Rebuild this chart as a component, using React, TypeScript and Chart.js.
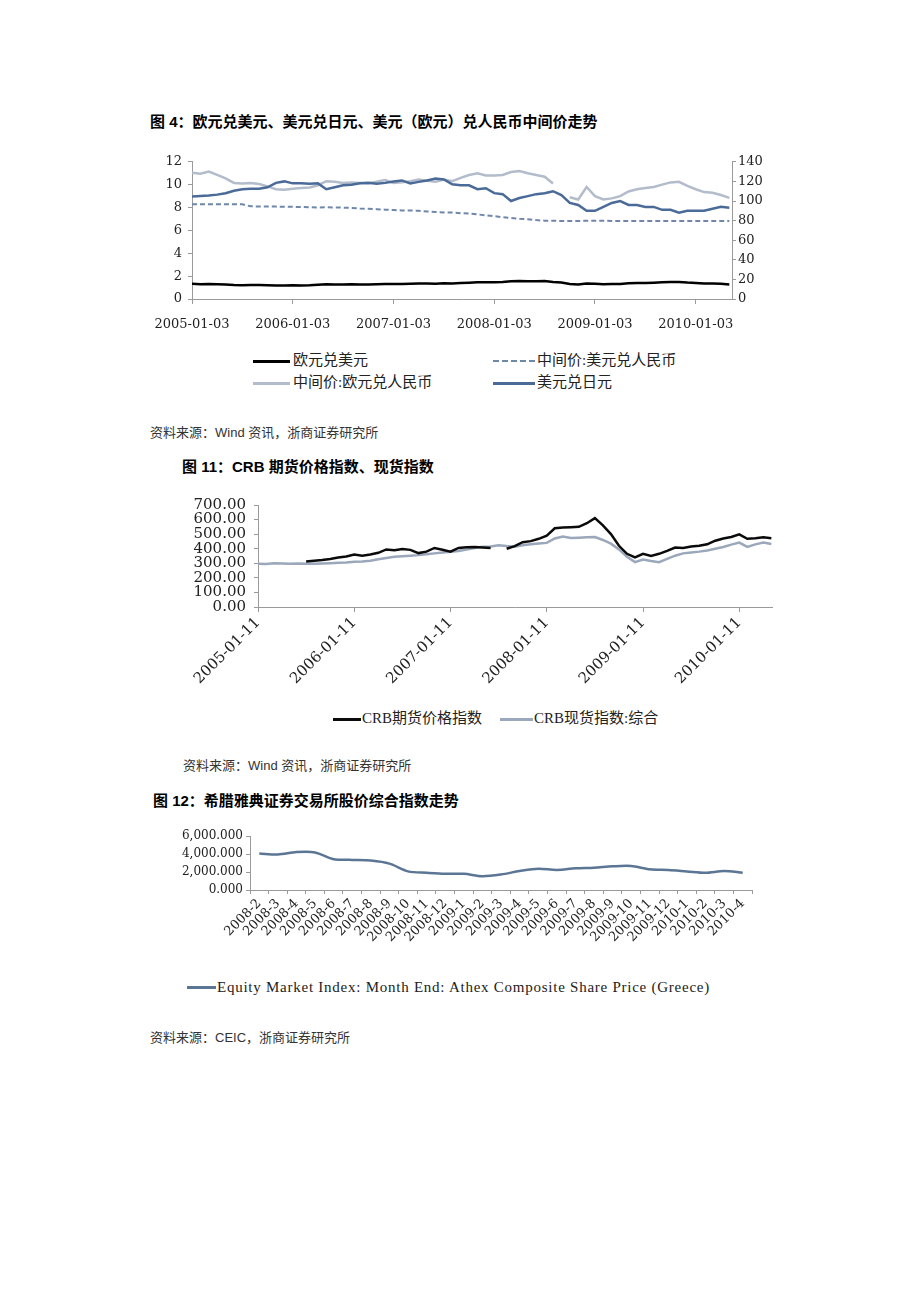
import React, { useEffect, useRef } from 'react';
import { Chart, registerables } from 'chart.js';

Chart.register(...registerables);

// ---------- Figure 4: FX (monthly samples from 2005-01) ----------
const fxTickLabels = ['2005-01-03', '2006-01-03', '2007-01-03', '2008-01-03', '2009-01-03', '2010-01-03'];
const eurUsd = [
  1.34, 1.30, 1.31, 1.29, 1.26, 1.22, 1.21, 1.23, 1.22, 1.20, 1.18, 1.19,
  1.21, 1.19, 1.20, 1.24, 1.28, 1.27, 1.27, 1.28, 1.27, 1.27, 1.30, 1.32,
  1.31, 1.31, 1.33, 1.36, 1.35, 1.34, 1.37, 1.36, 1.40, 1.43, 1.47, 1.46,
  1.47, 1.49, 1.55, 1.57, 1.55, 1.56, 1.57, 1.48, 1.44, 1.32, 1.27, 1.36,
  1.33, 1.28, 1.31, 1.32, 1.37, 1.40, 1.41, 1.43, 1.46, 1.48, 1.49, 1.44,
  1.41, 1.36, 1.35, 1.34, 1.26,
];
const usdCnyMid = [
  8.28, 8.28, 8.28, 8.28, 8.28, 8.28, 8.28, 8.11, 8.09, 8.09, 8.08, 8.07,
  8.06, 8.04, 8.03, 8.01, 8.02, 8.00, 7.99, 7.97, 7.92, 7.89, 7.86, 7.81,
  7.78, 7.75, 7.74, 7.72, 7.65, 7.62, 7.57, 7.57, 7.51, 7.48, 7.40, 7.32,
  7.24, 7.16, 7.08, 7.01, 6.97, 6.90, 6.85, 6.84, 6.83, 6.83, 6.83, 6.84,
  6.84, 6.84, 6.83, 6.83, 6.83, 6.83, 6.83, 6.83, 6.83, 6.83, 6.83, 6.83,
  6.83, 6.83, 6.83, 6.83, 6.83,
];
const eurCnyMid = [
  11.05, 10.95, 11.15, 10.85, 10.55, 10.15, 10.10, 10.15, 10.05, 9.85, 9.60, 9.55,
  9.65, 9.70, 9.75, 9.95, 10.30, 10.25, 10.15, 10.20, 10.15, 10.10, 10.25, 10.40,
  10.15, 10.20, 10.30, 10.45, 10.35, 10.25, 10.45, 10.30, 10.60, 10.85, 11.00, 10.80,
  10.80, 10.85, 11.10, 11.20, 11.00, 10.85, 10.70, 10.10, null, 8.90, 8.70, 9.80,
  9.00, 8.70, 8.80, 9.00, 9.40, 9.60, 9.70, 9.80, 10.00, 10.20, 10.25, 9.90,
  9.60, 9.35, 9.30, 9.10, 8.85,
];
const usdJpy = [
  104.5, 105, 105.5, 106.5, 108, 110.5, 112, 112.5, 112.5, 114, 118.5, 120,
  118, 118, 117.5, 118, 112, 114, 116, 116.5, 118, 118.5, 117.5, 118.5,
  120, 121, 118, 119.5, 121, 123, 122, 117, 116, 116, 112, 113,
  108, 107, 100, 103, 105, 107, 108, 110, 106, 98, 96, 90,
  90, 94, 98, 100, 96, 96, 94, 94, 91, 91, 88, 90,
  90, 90, 92, 94, 93,
];

// ---------- Figure 11: CRB (monthly samples from 2005-01) ----------
const crbTickLabels = ['2005-01-11', '2006-01-11', '2007-01-11', '2008-01-11', '2009-01-11', '2010-01-11'];
const crbFutures = [
  null, null, null, null, null, null, 313, 318, 322, 330, 340, 347,
  360, 352, 360, 372, 395, 390, 398, 392, 370, 380, 405, 393,
  380, 405, 410, 412, 408, 405, null, 400, 418, 445, 452, 468,
  490, 540, 545, 548, 550, 575, 610, 560, 500, 420, 365, 340,
  365, 350, 365, 385, 408, 405, 415, 420, 430, 455, 470, 480,
  498, 468, 472, 478, 472,
];
const crbSpot = [
  297, 295, 300, 298, 297, 298, 297, 296, 298, 300, 303, 305,
  310, 313, 318, 328, 336, 345, 348, 352, 356, 362, 368, 374,
  379, 385, 395, 405, 413, 416, 424, 418, 414, 424, 430, 436,
  440, 470, 484, 473, 475, 478, 480, 460, 435, 395, 345, 308,
  325, 315, 308, 330, 352, 368, 374, 380, 388, 400, 412, 428,
  442, 412, 430, 443, 432,
];

// ---------- Figure 12: Athex composite ----------
const athexMonths = [
  '2008-2', '2008-3', '2008-4', '2008-5', '2008-6', '2008-7', '2008-8', '2008-9', '2008-10',
  '2008-11', '2008-12', '2009-1', '2009-2', '2009-3', '2009-4', '2009-5', '2009-6', '2009-7',
  '2009-8', '2009-9', '2009-10', '2009-11', '2009-12', '2010-1', '2010-2', '2010-3', '2010-4',
];
const athexIndex = [
  4075, 3962, 4226, 4189, 3434, 3358, 3283, 2943, 2075,
  1925, 1811, 1811, 1547, 1736, 2113, 2377, 2226, 2415,
  2491, 2642, 2679, 2302, 2226, 2075, 1925, 2113, 1925,
];

const monthly = (vals: (number | null)[]) => vals.map((v, i) => ({ x: i / 12, y: v }));

const AXIS = '#9a9a9a';
const TXT = '#222';
const SERIF = 'DejaVu Serif';
const CJK = '"Liberation Serif", "Noto Sans CJK SC", serif';
const CJK_BOLD = '"Liberation Sans", "Noto Sans CJK SC", sans-serif';

const yearTicks = (labels: string[]) => (scale: any) => {
  scale.ticks = labels.map((_, i) => ({ value: i }));
};

function ChartCanvas({ left, top, width, height, make }: any) {
  const ref = useRef<HTMLCanvasElement>(null);
  useEffect(() => {
    const chart = new Chart(ref.current as HTMLCanvasElement, make());
    return () => chart.destroy();
  }, []);
  return (
    <canvas
      ref={ref}
      width={width}
      height={height}
      style={{ position: 'absolute', left, top, width, height }}
    />
  );
}

const noPlugins = { legend: { display: false }, tooltip: { enabled: false } };

const fxConfig = (): any => ({
  type: 'line',
  data: {
    datasets: [
      { label: '欧元兑美元', data: monthly(eurUsd), yAxisID: 'yL', borderColor: '#000', borderWidth: 2.5 },
      { label: '中间价:美元兑人民币', data: monthly(usdCnyMid), yAxisID: 'yL', borderColor: '#6f88aa', borderWidth: 2, borderDash: [5, 3] },
      { label: '美元兑日元', data: monthly(usdJpy), yAxisID: 'yR', borderColor: '#4a6a98', borderWidth: 2.5 },
      { label: '中间价:欧元兑人民币', data: monthly(eurCnyMid), yAxisID: 'yL', borderColor: '#b3bccb', borderWidth: 2.5 },
    ],
  },
  options: {
    animation: false,
    responsive: false,
    spanGaps: false,
    elements: { point: { radius: 0 }, line: { tension: 0 } },
    plugins: noPlugins,
    layout: { padding: { top: 10, left: 0, right: 0, bottom: 0 } },
    scales: {
      x: {
        type: 'linear', min: 0, max: 5.36,
        afterBuildTicks: yearTicks(fxTickLabels),
        afterFit: (s: any) => { s.height = 44; },
        ticks: { callback: (v: any) => fxTickLabels[Math.round(v)], autoSkip: false, maxRotation: 0, padding: 13, color: TXT, font: { family: SERIF, size: 13 } },
        grid: { drawOnChartArea: false, tickLength: 5, color: AXIS },
        border: { color: AXIS },
      },
      yL: {
        position: 'left', min: 0, max: 12,
        afterFit: (s: any) => { s.width = 52; },
        ticks: { stepSize: 2, autoSkip: false, padding: 6, color: TXT, font: { family: SERIF, size: 13 } },
        grid: { drawOnChartArea: false, tickLength: 4, color: AXIS },
        border: { color: AXIS },
      },
      yR: {
        position: 'right', min: 0, max: 140,
        afterFit: (s: any) => { s.width = 48; },
        ticks: { stepSize: 20, autoSkip: false, padding: 2, color: TXT, font: { family: SERIF, size: 13 } },
        grid: { drawOnChartArea: false, tickLength: 4, color: AXIS },
        border: { color: AXIS },
      },
    },
  },
});

const crbConfig = (): any => ({
  type: 'line',
  data: {
    datasets: [
      { label: 'CRB期货价格指数', data: monthly(crbFutures), borderColor: '#0a0a0a', borderWidth: 2.5 },
      { label: 'CRB现货指数:综合', data: monthly(crbSpot), borderColor: '#9ba7ba', borderWidth: 2.5 },
    ],
  },
  options: {
    animation: false,
    responsive: false,
    spanGaps: false,
    elements: { point: { radius: 0 }, line: { tension: 0 } },
    plugins: noPlugins,
    layout: { padding: { top: 10, left: 0, right: 18, bottom: 0 } },
    scales: {
      x: {
        type: 'linear', min: 0, max: 5.34,
        afterBuildTicks: yearTicks(crbTickLabels),
        afterFit: (s: any) => { s.height = 90; },
        ticks: { callback: (v: any) => crbTickLabels[Math.round(v)], autoSkip: false, minRotation: 45, maxRotation: 45, padding: 2, color: TXT, font: { family: SERIF, size: 15 } },
        grid: { drawOnChartArea: false, tickLength: 5, color: AXIS },
        border: { color: AXIS },
      },
      y: {
        min: 0, max: 700,
        afterFit: (s: any) => { s.width = 88; },
        ticks: { stepSize: 100, autoSkip: false, padding: 8, callback: (v: any) => Number(v).toFixed(2), color: TXT, font: { family: SERIF, size: 15 } },
        grid: { drawOnChartArea: false, tickLength: 4, color: AXIS },
        border: { color: AXIS },
      },
    },
  },
});

const athexConfig = (): any => ({
  type: 'line',
  data: {
    labels: athexMonths,
    datasets: [
      { label: 'Equity Market Index: Month End: Athex Composite Share Price (Greece)', data: athexIndex, borderColor: '#5b7595', borderWidth: 2.5 },
    ],
  },
  options: {
    animation: false,
    responsive: false,
    elements: { point: { radius: 0 }, line: { tension: 0.3 } },
    plugins: noPlugins,
    layout: { padding: { top: 10, left: 0, right: 18, bottom: 0 } },
    scales: {
      x: {
        type: 'category', offset: true,
        afterFit: (s: any) => { s.height = 70; },
        ticks: { autoSkip: false, minRotation: 45, maxRotation: 45, padding: 2, color: TXT, font: { family: SERIF, size: 13 } },
        grid: { drawOnChartArea: false, offset: true, tickLength: 4, color: AXIS },
        border: { color: AXIS },
      },
      y: {
        min: 0, max: 6000,
        afterFit: (s: any) => { s.width = 100; },
        ticks: {
          stepSize: 2000, autoSkip: false, padding: 3, color: TXT, font: { family: SERIF, size: 12 },
          callback: (v: any) => Number(v).toLocaleString('en-US', { minimumFractionDigits: 3, maximumFractionDigits: 3 }),
        },
        grid: { drawOnChartArea: false, tickLength: 4, color: AXIS },
        border: { color: AXIS },
      },
    },
  },
});

function Txt({ left, top, size, bold, family, color, spacing, children }: any) {
  return (
    <div
      style={{
        position: 'absolute', left, top, fontSize: size, lineHeight: `${size}px`,
        fontWeight: bold ? 700 : 400, fontFamily: family, color: color || '#000', whiteSpace: 'nowrap',
        letterSpacing: spacing || 'normal',
      }}
    >
      {children}
    </div>
  );
}

function Swatch({ left, top, width, color, dashed, thick }: any) {
  return (
    <div
      style={{
        position: 'absolute', left, top, width, height: 0,
        borderTop: `${thick || 3}px ${dashed ? 'dashed' : 'solid'} ${color}`,
      }}
    />
  );
}

export default function App() {
  return (
    <div style={{ position: 'absolute', left: 0, top: 0, width: 920, height: 1302, background: '#fff', overflow: 'hidden' }}>
      {/* Figure 4 */}
      <Txt left={150} top={114} size={15} bold family={CJK_BOLD}>图 4：欧元兑美元、美元兑日元、美元（欧元）兑人民币中间价走势</Txt>
      <ChartCanvas left={140} top={148} width={640} height={195} make={fxConfig} />
      <Swatch left={253} top={360} width={37} color="#000" />
      <Txt left={293} top={353} size={15} family={CJK} color="#222">欧元兑美元</Txt>
      <Swatch left={493} top={360} width={42} color="#6f88aa" dashed thick={2} />
      <Txt left={537} top={353} size={15} family={CJK} color="#222">中间价:美元兑人民币</Txt>
      <Swatch left={253} top={382} width={37} color="#b3bccb" />
      <Txt left={293} top={375} size={15} family={CJK} color="#222">中间价:欧元兑人民币</Txt>
      <Swatch left={493} top={382} width={42} color="#4a6a98" />
      <Txt left={537} top={375} size={15} family={CJK} color="#222">美元兑日元</Txt>
      <Txt left={150} top={426} size={13} family={CJK_BOLD} color="#333">资料来源：Wind 资讯，浙商证券研究所</Txt>

      {/* Figure 11 */}
      <Txt left={182} top={459} size={15} bold family={CJK_BOLD}>图 11：CRB 期货价格指数、现货指数</Txt>
      <ChartCanvas left={170} top={488} width={620} height={209} make={crbConfig} />
      <Swatch left={333} top={718} width={28} color="#0a0a0a" />
      <Txt left={362} top={711} size={15} family={CJK} color="#222">CRB期货价格指数</Txt>
      <Swatch left={500} top={718} width={33} color="#9ba7ba" />
      <Txt left={534} top={711} size={15} family={CJK} color="#222">CRB现货指数:综合</Txt>
      <Txt left={183} top={759} size={13} family={CJK_BOLD} color="#333">资料来源：Wind 资讯，浙商证券研究所</Txt>

      {/* Figure 12 */}
      <Txt left={153} top={793} size={15} bold family={CJK_BOLD}>图 12：希腊雅典证券交易所股价综合指数走势</Txt>
      <ChartCanvas left={150} top={826} width={620} height={134} make={athexConfig} />
      <Swatch left={187} top={986} width={29} color="#5b7595" />
      <Txt left={217} top={980} size={15} family={CJK} color="#222" spacing="0.75px">Equity Market Index: Month End: Athex Composite Share Price (Greece)</Txt>
      <Txt left={150} top={1031} size={13} family={CJK_BOLD} color="#333">资料来源：CEIC，浙商证券研究所</Txt>
    </div>
  );
}
